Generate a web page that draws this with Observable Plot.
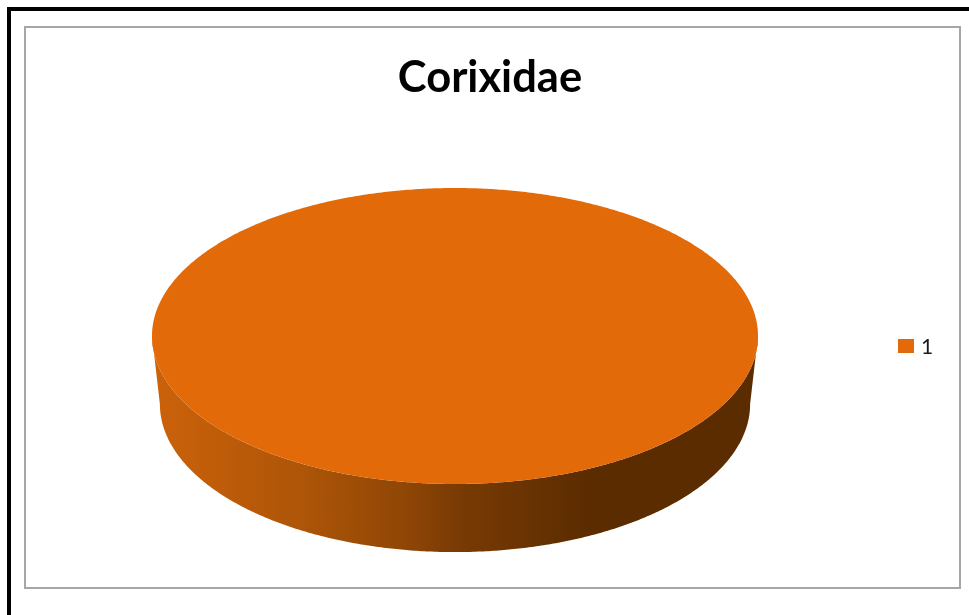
<!DOCTYPE html>
<html>
<head>
<meta charset="utf-8">
<script src="https://cdn.jsdelivr.net/npm/d3@7"></script>
<script src="https://cdn.jsdelivr.net/npm/@observablehq/plot@0.6"></script>
<style>
  html, body { margin: 0; padding: 0; background: #fff; overflow: hidden; }
  #page { position: relative; width: 969px; height: 615px; overflow: hidden; font-family: Lato, "Noto Sans", sans-serif; filter: blur(0.45px); }
  #outer { position: absolute; left: 7px; top: 7px; width: 970px; height: 620px; border-left: 4px solid #000; border-top: 4px solid #000; }
  #frame { position: absolute; left: 24px; top: 26px; width: 933px; height: 559px; border: 2px solid #a6a6a6; }
  #chart { position: absolute; left: 0; top: 0; }
  #title { position: absolute; left: 290px; width: 400px; top: 50px; text-align: center; font-size: 43.5px; line-height: 50px; font-weight: 700; color: #000; }
  #swatch { position: absolute; left: 898px; top: 339px; width: 16px; height: 14px; background: #e36a09; }
  #label { position: absolute; left: 921px; top: 334px; font-size: 21px; line-height: 24px; color: #1a1a1a; }
</style>
</head>
<body>
<div id="page">
  <div id="outer"></div>
  <div id="frame"></div>
  <div id="chart"></div>
  <div id="title"></div>
  <div id="swatch"></div>
  <div id="label"></div>
</div>
<script>
const chartTitle = "Corixidae";
const categories = ["1"];
const values = [100];

const sliceColor = "#e36a09";
const sideStops = [
  [0.0, "#cc620a"], [0.25, "#ad5508"], [0.42, "#8f4605"],
  [0.5, "#7a3b04"], [0.72, "#5b2c00"], [1.0, "#5b2c00"]
];
const depth = 0.46;      // thickness of the disc, in units of the vertical radius
const taper = 0.974;     // the lower rim is slightly narrower

// The one slice spans its share of the whole pie.
const total = d3.sum(values);
const sweep = (values[0] / total) * 2 * Math.PI;
const angles = d3.range(0, 361).map(i => (i / 360) * (sweep / 2));

const sideGradient = () => {
  const svgNS = "http://www.w3.org/2000/svg";
  const defs = document.createElementNS(svgNS, "defs");
  const grad = document.createElementNS(svgNS, "linearGradient");
  grad.setAttribute("id", "side-gradient");
  grad.setAttribute("x1", "0"); grad.setAttribute("x2", "1");
  grad.setAttribute("y1", "0"); grad.setAttribute("y2", "0");
  for (const [o, c] of sideStops) {
    const s = document.createElementNS(svgNS, "stop");
    s.setAttribute("offset", o);
    s.setAttribute("stop-color", c);
    grad.appendChild(s);
  }
  defs.appendChild(grad);
  return defs;
};

const plot = Plot.plot({
  width: 969,
  height: 615,
  margin: 0,
  x: { type: "linear", domain: [-1, 1], range: [152, 758], axis: null },
  y: { type: "linear", domain: [-1, 1], range: [484, 188], axis: null },
  style: { background: "transparent" },
  marks: [
    sideGradient,
    // rim of the disc: the lower half of the top ellipse down to the lower ellipse
    Plot.area(angles, {
      x1: a => Math.cos(a),
      y1: a => -Math.sin(a),
      x2: a => taper * Math.cos(a),
      y2: a => -Math.sin(a) - depth,
      fill: "url(#side-gradient)"
    }),
    // top face
    Plot.area(angles, {
      x1: a => Math.cos(a),
      y1: a => Math.sin(a),
      x2: a => Math.cos(a),
      y2: a => -Math.sin(a),
      fill: sliceColor
    })
  ]
});

document.getElementById("chart").appendChild(plot);
document.getElementById("title").textContent = chartTitle;
document.getElementById("label").textContent = categories[0];
</script>
</body>
</html>
